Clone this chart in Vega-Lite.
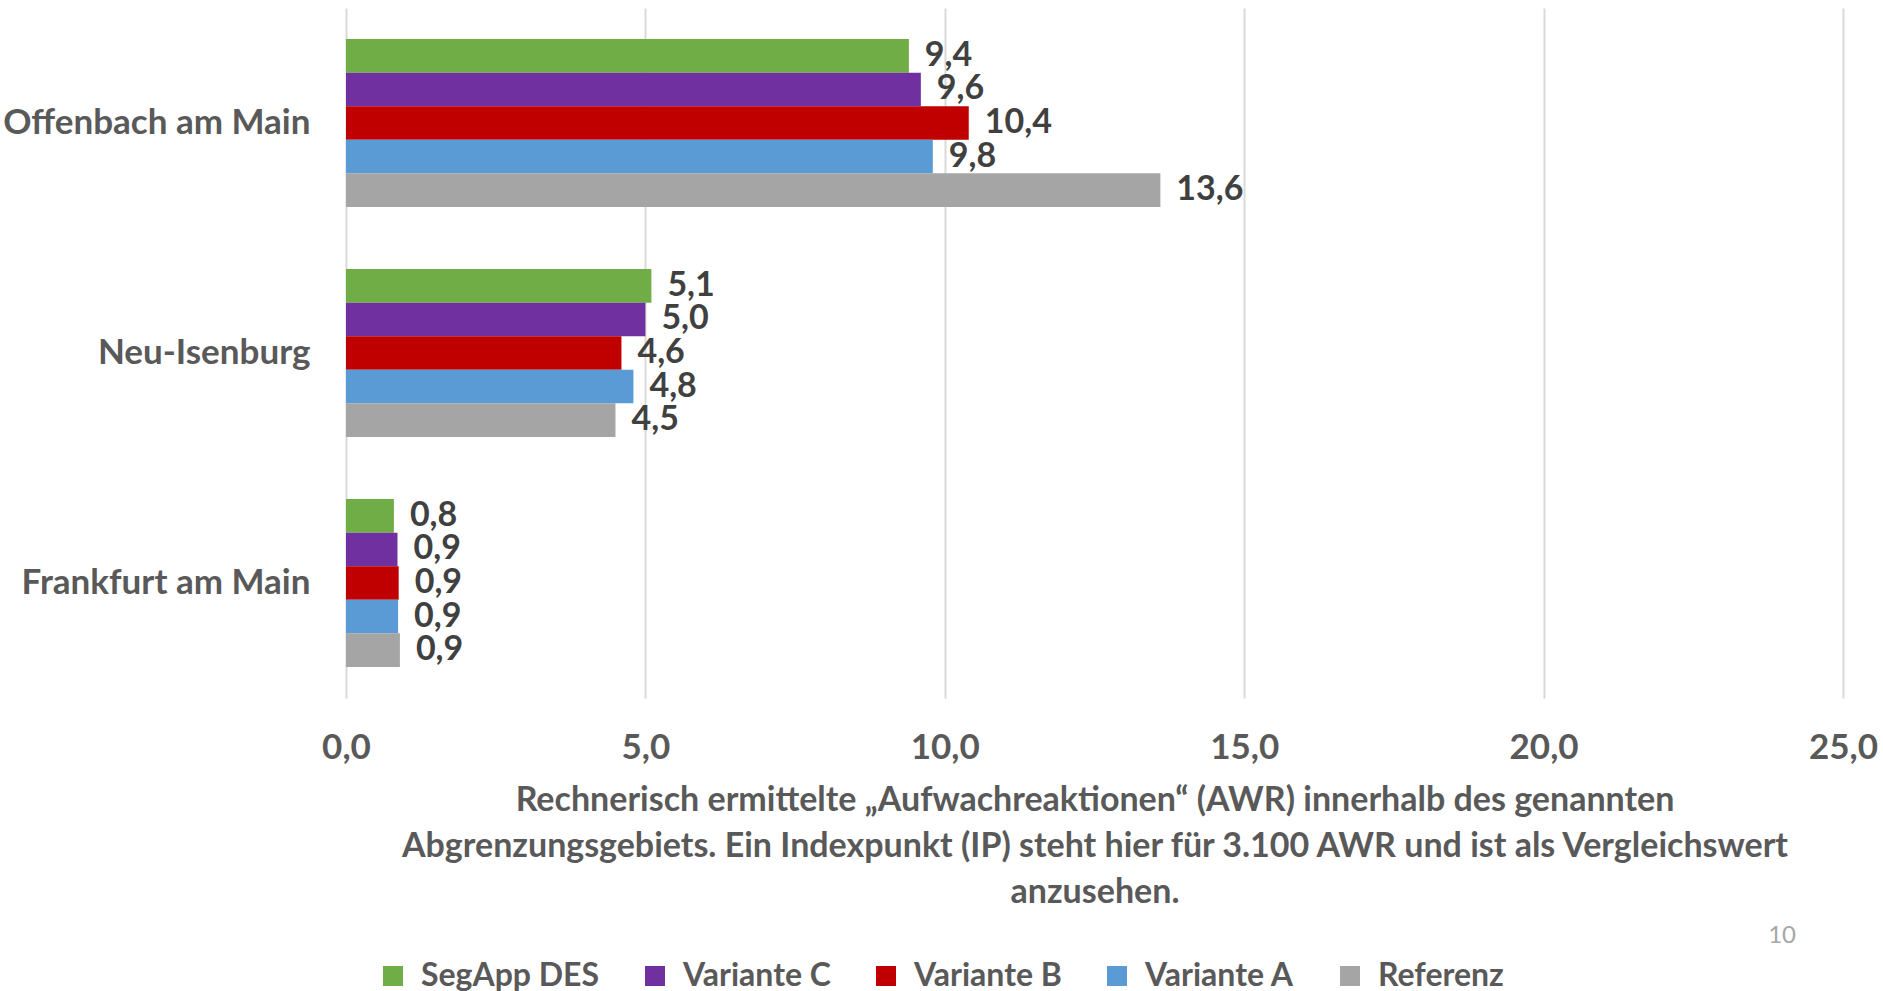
{
  "$schema": "https://vega.github.io/schema/vega-lite/v6.json",
  "width": 1497,
  "height": 690,
  "autosize": {"type": "none"},
  "padding": {"left": 346, "top": 8, "right": 40, "bottom": 293},
  "config": {
    "locale": {"number": {"decimal": ",", "thousands": ".", "grouping": [3], "currency": ["", " €"]}},
    "view": {"stroke": null},
    "font": "Lato"
  },
  "title": {"text": "10", "orient": "top", "frame": "group", "anchor": "end", "font": "Lato", "fontSize": 24, "fontWeight": "normal", "color": "#A6A6A6", "dx": -47, "offset": -940},
  "data": {
    "values": [
      {"Ort": "Offenbach am Main", "Serie": "SegApp DES", "Wert": 9.4},
      {"Ort": "Offenbach am Main", "Serie": "Variante C", "Wert": 9.6},
      {"Ort": "Offenbach am Main", "Serie": "Variante B", "Wert": 10.4},
      {"Ort": "Offenbach am Main", "Serie": "Variante A", "Wert": 9.8},
      {"Ort": "Offenbach am Main", "Serie": "Referenz", "Wert": 13.6},
      {"Ort": "Neu-Isenburg", "Serie": "SegApp DES", "Wert": 5.1},
      {"Ort": "Neu-Isenburg", "Serie": "Variante C", "Wert": 5.0},
      {"Ort": "Neu-Isenburg", "Serie": "Variante B", "Wert": 4.6},
      {"Ort": "Neu-Isenburg", "Serie": "Variante A", "Wert": 4.8},
      {"Ort": "Neu-Isenburg", "Serie": "Referenz", "Wert": 4.5},
      {"Ort": "Frankfurt am Main", "Serie": "SegApp DES", "Wert": 0.8},
      {"Ort": "Frankfurt am Main", "Serie": "Variante C", "Wert": 0.86},
      {"Ort": "Frankfurt am Main", "Serie": "Variante B", "Wert": 0.88},
      {"Ort": "Frankfurt am Main", "Serie": "Variante A", "Wert": 0.87},
      {"Ort": "Frankfurt am Main", "Serie": "Referenz", "Wert": 0.9}
    ]
  },
  "encoding": {
    "y": {
      "field": "Ort", "type": "nominal",
      "sort": ["Offenbach am Main", "Neu-Isenburg", "Frankfurt am Main"],
      "scale": {"paddingInner": 0.27, "paddingOuter": 0.135},
      "axis": {"title": null, "domain": false, "ticks": false, "labelPadding": 36, "labelFont": "Lato", "labelFontSize": 35, "labelFontWeight": "bold", "labelColor": "#595959", "labelLimit": 400}
    },
    "yOffset": {
      "field": "Serie", "type": "nominal",
      "sort": ["SegApp DES", "Variante C", "Variante B", "Variante A", "Referenz"],
      "scale": {"paddingInner": 0, "paddingOuter": 0}
    },
    "x": {
      "field": "Wert", "type": "quantitative",
      "scale": {"domain": [0, 25], "nice": false},
      "axis": {
        "values": [0, 5, 10, 15, 20, 25],
        "format": ".1f",
        "grid": true, "gridColor": "#D9D9D9", "gridWidth": 2,
        "domain": false, "ticks": false,
        "labelFlush": false,
        "labelPadding": 32,
        "labelFont": "Lato", "labelFontSize": 35, "labelFontWeight": "bold", "labelColor": "#595959",
        "title": ["Rechnerisch ermittelte „Aufwachreaktionen“ (AWR) innerhalb des genannten", "Abgrenzungsgebiets. Ein Indexpunkt (IP) steht hier für 3.100 AWR und ist als Vergleichswert", "anzusehen."],
        "titleFont": "Lato", "titleFontSize": 34, "titleFontWeight": "bold", "titleColor": "#595959",
        "titleLineHeight": 46, "titlePadding": 18
      }
    }
  },
  "layer": [
    {
      "mark": {"type": "bar"},
      "encoding": {
        "color": {
          "field": "Serie", "type": "nominal",
          "sort": ["SegApp DES", "Variante C", "Variante B", "Variante A", "Referenz"],
          "scale": {"domain": ["SegApp DES", "Variante C", "Variante B", "Variante A", "Referenz"], "range": ["#70AD47", "#7030A0", "#C00000", "#5B9BD5", "#A5A5A5"]},
          "legend": {
            "orient": "none", "legendX": 31, "legendY": 952, "direction": "horizontal",
            "title": null, "symbolType": "square", "symbolSize": 400, "symbolStrokeWidth": 0,
            "labelFont": "Lato", "labelFontSize": 32, "labelFontWeight": "bold", "labelColor": "#595959",
            "labelOffset": 12, "columnPadding": 39, "labelLimit": 400
          }
        }
      }
    },
    {
      "mark": {"type": "text", "align": "left", "baseline": "middle", "dx": 16, "font": "Lato", "fontWeight": "bold", "fontSize": 34, "color": "#404040"},
      "encoding": {
        "text": {"field": "Wert", "type": "quantitative", "format": ".1f"}
      }
    }
  ]
}
